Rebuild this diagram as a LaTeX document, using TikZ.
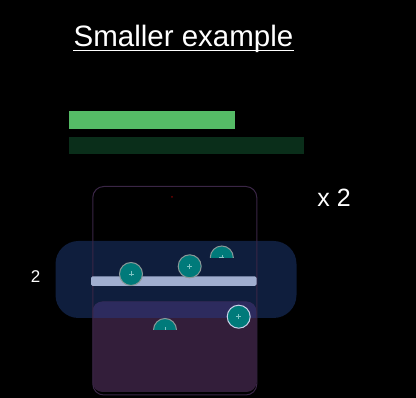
\documentclass[tikz,border=0pt]{standalone}
\usepackage{fontspec}
\setmainfont{Liberation Sans}
\definecolor{greenA}{HTML}{55BB66}
\definecolor{greenB}{HTML}{0A2E1A}
\definecolor{phonec}{HTML}{3A2646}
\definecolor{bluec}{HTML}{0F1E3D}
\definecolor{purplec}{HTML}{331E3A}
\definecolor{overlapc}{HTML}{2D2B5E}
\definecolor{barc}{HTML}{A0AECF}
\definecolor{tealc}{HTML}{007A7A}
\definecolor{ringc}{HTML}{8A9898}
\definecolor{ringl}{HTML}{C8D0E8}
\definecolor{plusc}{HTML}{7FC4C4}
\tikzset{
  tok/.style={circle, fill=tealc, draw=ringc, line width=1pt, minimum size=23pt, inner sep=0pt},
  tokl/.style={tok, draw=ringl},
  plusl/.style={plusc, line width=0.6pt},
  lbl/.style={white, inner sep=0pt, anchor=base}
}
\newcommand{\plusat}[1]{\draw[plusl] ([xshift=-2.5pt]#1.center) -- ([xshift=2.5pt]#1.center); \draw[plusl] ([yshift=-2.5pt]#1.center) -- ([yshift=2.5pt]#1.center);}
\begin{document}
\begin{tikzpicture}[x=1pt,y=-1pt]
\fill[black] (0,0) rectangle (416,398);
\useasboundingbox (0,0) rectangle (416,398);
% title
\node[lbl, font=\fontsize{29.5}{32}\selectfont] (title) at (183.5,46.5) {Smaller example};
\draw[white, line width=1.3pt] ([yshift=-3.8pt]title.base west) -- ([yshift=-3.8pt]title.base east);
% bars
\fill[greenA] (69,111) rectangle (235,129.5);
\fill[greenB] (69,137) rectangle (304,154);
% labels
\node[lbl, font=\fontsize{25}{28}\selectfont] (x2) at (334,206.5) {x 2};
\node[lbl, font=\fontsize{17}{20}\selectfont] (two) at (35.5,283) {2};
% boxes
\fill[bluec, rounded corners=23pt] (55.5,241) rectangle (296.5,318);
\fill[purplec, rounded corners=10pt] (92.5,301.5) rectangle (256.5,392);
\begin{scope}
  \clip[rounded corners=23pt] (55.5,241) rectangle (296.5,318);
  \fill[overlapc, rounded corners=10pt] (92.5,301.5) rectangle (256.5,392);
\end{scope}
\draw[phonec, line width=1pt, rounded corners=11pt] (92.8,186.5) rectangle (256.8,395);
\fill[red!45!black] (172,197) circle (1pt);
% bar
\fill[barc, rounded corners=1.5pt] (91,276.5) rectangle (256.5,286);
% tokens
\node[tok] (c1) at (131,274) {};
\plusat{c1}
\node[tok] (c2) at (189.7,266.3) {};
\plusat{c2}
\begin{scope}
  \clip (205,240) rectangle (240,257.5);
  \node[tok] (c3) at (221.8,257.5) {};
  \plusat{c3}
\end{scope}
\begin{scope}
  \clip (145,310) rectangle (185,330);
  \node[tok] (c4) at (165,330) {};
  \plusat{c4}
\end{scope}
\node[tokl] (c5) at (238.7,316.7) {};
\plusat{c5}
\end{tikzpicture}
\end{document}
